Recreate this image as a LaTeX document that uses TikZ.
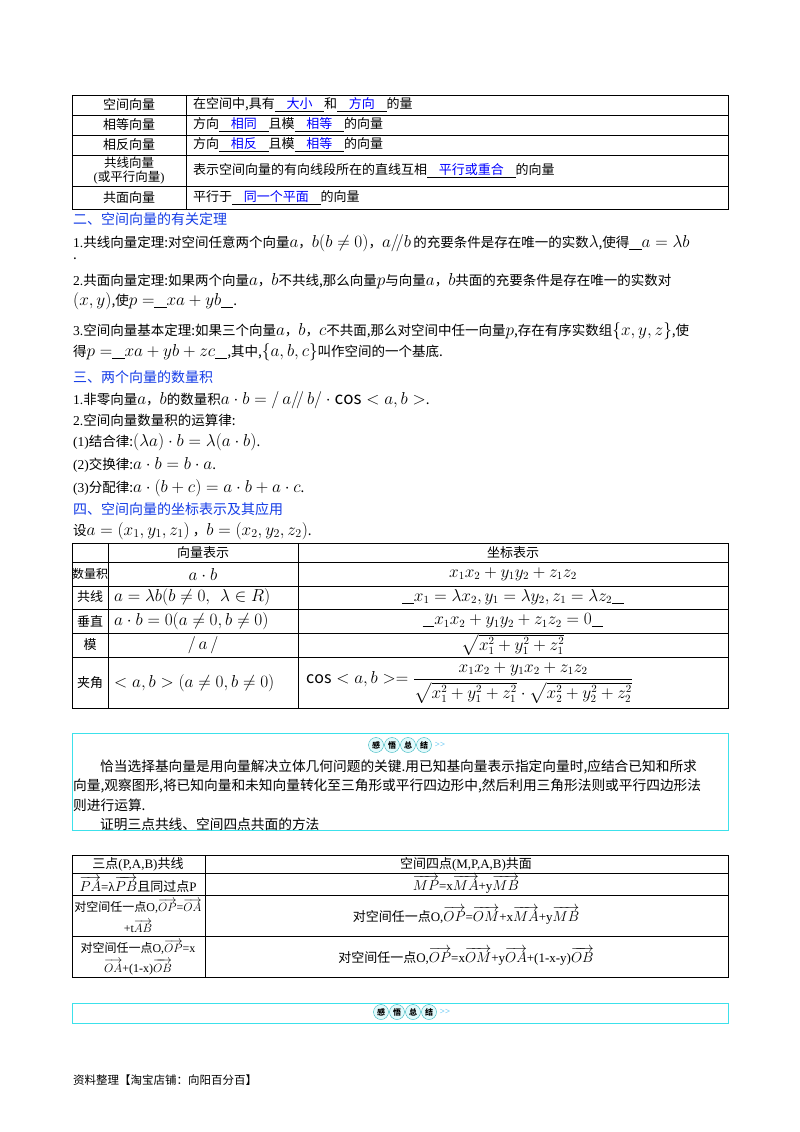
\documentclass[tikz,border=0pt]{standalone}
\usepackage{amsmath}
\usepackage{fontspec}
\setmainfont{Noto Sans CJK SC}
\newfontfamily\lat{Liberation Serif}
\definecolor{hblue}{RGB}{20,60,230}
\definecolor{bcyan}{RGB}{60,225,235}
\newcommand{\la}[1]{{\lat #1}}
\newcommand{\M}[1]{{\fontsize{17}{17}\selectfont$#1$}}
\newcommand{\N}[1]{{\fontsize{16}{16}\selectfont$#1$}}
\newcommand{\bl}[1]{\underline{\hspace{0.9em}\textcolor{blue}{#1}\hspace{0.9em}}}
\newcommand{\us}{\underline{\hspace{0.9em}}}
\newcommand{\ov}[1]{{\fontsize{14.5}{16}\selectfont$\overrightarrow{#1}$}}
\newcommand{\ovs}[1]{{\fontsize{13}{13}\selectfont$\overrightarrow{#1}$}}
\newcommand{\cs}{\mathrm{cos}}
\tikzset{
 txt/.style={anchor=west,inner sep=0pt,font=\fontsize{13.5}{15}\selectfont},
 cell/.style={inner sep=0pt,font=\fontsize{13}{15}\selectfont},
 head/.style={anchor=west,inner sep=0pt,text=hblue,font=\fontsize{14}{15}\selectfont},
 tline/.style={line width=0.9pt},
 gw/.pic={
  \foreach \c [count=\i] in {感,悟,总,结}{
   \node[circle,draw=bcyan!80!black,fill=bcyan!15,inner sep=0pt,minimum size=15pt,font=\fontsize{8}{8}\selectfont\bfseries] (gw\i) at (\i*16-40,0) {\c};}
  \node[inner sep=0pt,text=bcyan!80!blue,font=\fontsize{9}{9}\selectfont\lat] (gwa) at (40,0) {>>};
 }
}
\begin{document}
\begin{tikzpicture}[x=1pt,y=-1pt]
\useasboundingbox (0,0) rectangle (800,1132);
% table 1
\draw[tline] (72,95) rectangle (728,209);
\foreach \y in {115,135,155,186} \draw[tline] (72,\y)--(728,\y);
\draw[tline] (186,95)--(186,209);
\node[cell] (a1) at (129,105) {空间向量};
\node[cell] (a2) at (129,125) {相等向量};
\node[cell] (a3) at (129,145) {相反向量};
\node[cell,align=center,font=\fontsize{12.5}{14}\selectfont] (a4) at (129,170.5) {共线向量\\\la{(}或平行向量\la{)}};
\node[cell] (a5) at (129,198) {共面向量};
\node[cell,anchor=west] (b1) at (193,105) {在空间中,具有\bl{大小}和\bl{方向}的量};
\node[cell,anchor=west] (b2) at (193,125) {方向\bl{相同}且模\bl{相等}的向量};
\node[cell,anchor=west] (b3) at (193,145) {方向\bl{相反}且模\bl{相等}的向量};
\node[cell,anchor=west] (b4) at (193,171) {表示空间向量的有向线段所在的直线互相\bl{平行或重合}的向量};
\node[cell,anchor=west] (b5) at (193,198) {平行于\bl{同一个平面}的向量};
% section 2
\node[head] (h2) at (73,219) {二、空间向量的有关定理};
\node[txt] (l1) at (73,243) {\la{1.}共线向量定理:对空间任意两个向量\M{a}，\M{b(b\neq 0)}，\M{a/\!/b}\,的充要条件是存在唯一的实数\M{\lambda},使得\us\M{a=\lambda b}};
\node[txt] (l1b) at (73,259) {.};
\node[txt] (l2) at (73,281) {\la{2.}共面向量定理:如果两个向量\M{a}，\M{b}不共线,那么向量\M{p}与向量\M{a}，\M{b}共面的充要条件是存在唯一的实数对};
\node[txt] (l2b) at (73,301) {\M{(x,y)},使\M{p=}\us\M{xa+yb}\us.};
\node[txt] (l3) at (73,331) {\la{3.}空间向量基本定理:如果三个向量\M{a}，\M{b}，\M{c}不共面,那么对空间中任一向量\M{p},存在有序实数组\M{\{x,y,z\}},使};
\node[txt] (l3b) at (73,352) {得\M{p=}\us\M{xa+yb+zc}\us,其中,\M{\{a,b,c\}}叫作空间的一个基底.};
% section 3
\node[head] (h3) at (73,377) {三、两个向量的数量积};
\node[txt] (m1) at (73,400) {\la{1.}非零向量\M{a}，\M{b}的数量积\M{a\cdot b=/\,a/\!/\,b/\cdot\cs<a,b>}.};
\node[txt] (m2) at (73,420) {\la{2.}空间向量数量积的运算律:};
\node[txt] (m3) at (73,442) {\la{(1)}结合律:\M{(\lambda a)\cdot b=\lambda(a\cdot b)}.};
\node[txt] (m4) at (73,465) {\la{(2)}交换律:\M{a\cdot b=b\cdot a}.};
\node[txt] (m5) at (73,488) {\la{(3)}分配律:\M{a\cdot(b+c)=a\cdot b+a\cdot c}.};
% section 4
\node[head] (h4) at (73,509) {四、空间向量的坐标表示及其应用};
\node[txt] (s1) at (73,531) {设\M{a=(x_1,y_1,z_1)}\ ，\M{b=(x_2,y_2,z_2)}.};
% table 2
\draw[tline] (72,543) rectangle (728,708);
\foreach \y in {562,586,609,633,657} \draw[tline] (72,\y)--(728,\y);
\draw[tline] (108,543)--(108,708);
\draw[tline] (298,543)--(298,708);
\node[cell] (c0a) at (203,553) {向量表示};
\node[cell] (c0b) at (513,553) {坐标表示};
\node[cell,font=\fontsize{12}{14}\selectfont] (r1) at (90,574) {数量积};
\node[cell] (r2) at (90,597) {共线};
\node[cell] (r3) at (90,621) {垂直};
\node[cell] (r4) at (90,645) {模};
\node[cell] (r5) at (90,683) {夹角};
\node[cell] (v1) at (203,574) {\N{a\cdot b}};
\node[cell,anchor=west] (v2) at (114,597) {\N{a=\lambda b(b\neq 0,\ \ \lambda\in R)}};
\node[cell,anchor=west] (v3) at (114,621) {\N{a\cdot b=0(a\neq0,b\neq0)}};
\node[cell] (v4) at (203,645) {\N{/\,a\,/}};
\node[cell,anchor=west] (v5) at (114,683) {\N{<a,b>(a\neq0,b\neq0)}};
\node[cell] (w1) at (513,574) {\N{x_1x_2+y_1y_2+z_1z_2}};
\node[cell] (w2) at (513,597) {\us\N{x_1=\lambda x_2,y_1=\lambda y_2,z_1=\lambda z_2}\us};
\node[cell] (w3) at (513,621) {\us\N{x_1x_2+y_1y_2+z_1z_2=0}\us};
\node[cell] (w4) at (513,645) {\N{\sqrt{x_1^2+y_1^2+z_1^2}}};
\node[cell,anchor=west] (w5) at (306,683) {\N{\cs<a,b>=\dfrac{x_1x_2+y_1x_2+z_1z_2}{\sqrt{x_1^2+y_1^2+z_1^2}\cdot\sqrt{x_2^2+y_2^2+z_2^2}}}};
% box 1
\draw[bcyan,line width=1pt] (72,733) rectangle (728,830);
\pic at (400,745) {gw};
\begin{scope}[every node/.style={cell,anchor=west,font=\fontsize{13.7}{15}\selectfont}]
\node (p1) at (100,767) {恰当选择基向量是用向量解决立体几何问题的关键.用已知基向量表示指定向量时,应结合已知和所求};
\node (p2) at (73,786) {向量,观察图形,将已知向量和未知向量转化至三角形或平行四边形中,然后利用三角形法则或平行四边形法};
\node (p3) at (73,805) {则进行运算.};
\node (p4) at (100,824) {证明三点共线、空间四点共面的方法};
\end{scope}
% table 3
\draw[tline] (72,855) rectangle (728,977);
\foreach \y in {873,895,936} \draw[tline] (72,\y)--(728,\y);
\draw[tline] (205,855)--(205,977);
\node[cell] (d0a) at (138,864) {三点\la{(P,A,B)}共线};
\node[cell] (d0b) at (466,864) {空间四点\la{(M,P,A,B)}共面};
\node[cell] (d1a) at (138,884) {\ov{PA}\la{=λ}\ov{PB}且同过点\la{P}};
\node[cell] (d1b) at (466,884) {\ov{MP}\la{=x}\ov{MA}\la{+y}\ov{MB}};
\node[cell,font=\fontsize{12}{13}\selectfont] (d2a) at (138,906) {对空间任一点\la{O,}\ovs{OP}\la{=}\ovs{OA}};
\node[cell,font=\fontsize{12}{13}\selectfont] (d2c) at (138,926) {\la{+t}\ovs{AB}};
\node[cell] (d2b) at (466,915) {对空间任一点\la{O,}\ov{OP}\la{=}\ov{OM}\la{+x}\ov{MA}\la{+y}\ov{MB}};
\node[cell,font=\fontsize{12}{13}\selectfont] (d3a) at (138,947) {对空间任一点\la{O,}\ovs{OP}\la{=x}};
\node[cell,font=\fontsize{12}{13}\selectfont] (d3c) at (138,967) {\ovs{OA}\la{+(1-x)}\ovs{OB}};
\node[cell] (d3b) at (466,956) {对空间任一点\la{O,}\ov{OP}\la{=x}\ov{OM}\la{+y}\ov{OA}\la{+(1-x-y)}\ov{OB}};
% box 2
\draw[bcyan,line width=1pt] (72,1003) rectangle (728,1023);
\pic at (405,1012) {gw};
\node[cell,anchor=west,font=\fontsize{11.5}{13}\selectfont] (ft) at (73,1080) {资料整理【淘宝店铺：向阳百分百】};
\end{tikzpicture}
\end{document}
